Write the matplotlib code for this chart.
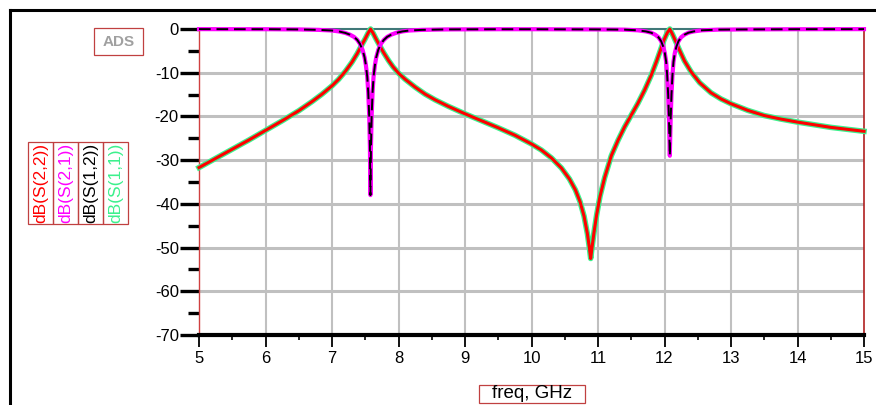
import matplotlib
matplotlib.use("Agg")
import matplotlib.pyplot as plt
from matplotlib.patches import Rectangle
from matplotlib.lines import Line2D
from matplotlib.ticker import MultipleLocator

plt.rcParams['font.family'] = ['Liberation Sans', 'DejaVu Sans']

# ---- data ----
# reflection (S11 / S22), dB
f_refl = [5.0, 5.25, 5.5, 5.75, 6.0, 6.25, 6.5, 6.7, 6.85, 7.0, 7.1, 7.2, 7.3, 7.38, 7.45,
          7.5, 7.54, 7.58, 7.62, 7.66, 7.71, 7.78, 7.85, 7.92, 8.0, 8.1, 8.25, 8.4, 8.55,
          8.75, 9.0, 9.25, 9.5, 9.75, 10.0, 10.15, 10.3, 10.45, 10.57, 10.66, 10.73, 10.79,
          10.84, 10.87, 10.89, 10.91, 10.94, 10.98, 11.03, 11.1, 11.2, 11.3, 11.4, 11.5,
          11.6, 11.7, 11.8, 11.88, 11.94, 11.99, 12.04, 12.08, 12.12, 12.17, 12.23, 12.3,
          12.4, 12.53, 12.7, 12.85, 13.0, 13.25, 13.5, 13.75, 14.0, 14.5, 15.0]
s22_db = [-31.7, -29.6, -27.5, -25.4, -23.2, -21.0, -18.7, -16.6, -14.9, -13.0, -11.5, -9.7,
          -7.6, -5.6, -3.6, -2.2, -1.0, 0.0, -1.0, -2.2, -3.6, -5.5, -7.2, -8.7, -10.1,
          -11.5, -13.3, -14.9, -16.2, -17.7, -19.4, -21.0, -22.6, -24.3, -26.3, -27.7, -29.5,
          -31.8, -34.3, -36.8, -39.5, -42.8, -46.8, -50.0, -52.5, -50.0, -46.5, -42.5, -38.3,
          -34.0, -29.0, -25.5, -22.4, -19.7, -17.0, -14.0, -10.6, -7.4, -4.8, -2.6, -0.9,
          0.0, -1.2, -2.9, -5.0, -7.3, -9.8, -12.3, -14.6, -16.0, -17.1, -18.6, -19.8, -20.6,
          -21.3, -22.5, -23.4]
s11_db = list(s22_db)

# transmission (S21 / S12), dB
f_trans = [5.0, 6.0, 6.5, 6.8, 7.0, 7.1, 7.2, 7.27, 7.33, 7.38, 7.42, 7.46, 7.49, 7.51,
           7.53, 7.545, 7.56, 7.57, 7.578, 7.586, 7.596, 7.61, 7.625, 7.645, 7.665, 7.695,
           7.735, 7.78, 7.83, 7.89, 7.96, 8.06, 8.16, 8.35, 8.7, 9.5, 10.0, 11.0, 11.4, 11.6,
           11.72, 11.8, 11.86, 11.91, 11.95, 11.98, 12.005, 12.025, 12.04, 12.055, 12.068,
           12.08, 12.092, 12.105, 12.12, 12.135, 12.155, 12.18, 12.21, 12.25, 12.3, 12.36,
           12.44, 12.56, 12.8, 13.2, 14.0, 15.0]
s21_db = [-0.03, -0.05, -0.1, -0.2, -0.35, -0.55, -0.9, -1.3, -1.8, -2.5, -3.4, -4.8, -6.5,
          -8.3, -10.9, -14.5, -20.0, -27.0, -38.0, -27.0, -20.0, -14.5, -10.9, -8.3, -6.5,
          -4.8, -3.4, -2.5, -1.8, -1.3, -0.9, -0.55, -0.35, -0.2, -0.1, -0.05, -0.05, -0.1,
          -0.15, -0.3, -0.55, -0.85, -1.3, -1.9, -2.8, -4.0, -5.5, -7.5, -10.5, -15.0, -21.0,
          -29.0, -21.0, -15.0, -10.5, -7.5, -5.5, -4.0, -2.8, -1.9, -1.3, -0.85, -0.55, -0.3,
          -0.15, -0.1, -0.05, -0.03]
s12_db = list(s21_db)

x_ticks = [5, 6, 7, 8, 9, 10, 11, 12, 13, 14, 15]
y_ticks = [-70, -60, -50, -40, -30, -20, -10, 0]
legend_labels = ['dB(S(2,2))', 'dB(S(2,1))', 'dB(S(1,2))', 'dB(S(1,1))']
legend_colors = ['#ff0000', '#ff00ff', '#000000', '#3cf08c']

W, H = 876, 405
fig = plt.figure(figsize=(W / 100, H / 100), dpi=100)

def fx(px):
    return px / W

def fy(py):
    return 1 - py / H

ax = fig.add_axes([fx(199), fy(335), fx(864) - fx(199), fy(29) - fy(335)])
ax.set_xlim(5, 15)
ax.set_ylim(-70, 0)

# grid
for xv in x_ticks[1:-1]:
    ax.axvline(xv, color='#c0c0c0', lw=1.5, zorder=0)
for yv in y_ticks[1:-1]:
    ax.axhline(yv, color='#c0c0c0', lw=2.2, zorder=0)

# curves
ax.plot(f_refl, s11_db, color='#3cf08c', lw=4.0, zorder=3, clip_on=False,
        solid_joinstyle='round')
ax.plot(f_refl, s22_db, color='#ff0000', lw=2.2, zorder=4, clip_on=False,
        solid_joinstyle='round')
ax.plot(f_trans, s21_db, color='#ff00ff', lw=3.0, zorder=5, clip_on=False)
ax.plot(f_trans, s12_db, color='#000000', lw=1.4, ls=(0, (6, 3)), zorder=6, clip_on=False)

# spines
ax.spines['left'].set_color('#d04040')
ax.spines['left'].set_linewidth(1.0)
ax.spines['right'].set_color('#b02020')
ax.spines['right'].set_linewidth(1.2)
ax.spines['top'].set_color('#407878')
ax.spines['top'].set_linewidth(1.5)
ax.spines['bottom'].set_color('#000000')
ax.spines['bottom'].set_linewidth(3.0)
ax.spines['bottom'].set_zorder(8)

# ticks
ax.set_xticks(x_ticks)
ax.set_yticks(y_ticks)
ax.set_xticklabels([str(v) for v in x_ticks])
ax.set_yticklabels([str(v) for v in y_ticks])
ax.xaxis.set_minor_locator(MultipleLocator(0.5))
ax.yaxis.set_minor_locator(MultipleLocator(5))
ax.tick_params(axis='y', which='major', direction='out', length=13.5, width=2.4,
               labelsize=12, pad=1, color='black')
ax.tick_params(axis='y', which='minor', direction='out', length=8, width=2.4, color='black')
ax.tick_params(axis='x', which='major', direction='out', length=8.5, width=1.3,
               labelsize=12, pad=3, color='black')
ax.tick_params(axis='x', which='minor', direction='out', length=3.5, width=1.2, color='black')

# outer frame (top and left)
fig.add_artist(Line2D([fx(10), 1.0], [fy(10), fy(10)], color='black', lw=2.2))
fig.add_artist(Line2D([fx(10), fx(10)], [fy(10), 0.0], color='black', lw=2.2))

# ADS box
fig.add_artist(Rectangle((fx(94), fy(55)), fx(143) - fx(94), fy(28) - fy(55),
                         fill=False, edgecolor='#c04040', lw=0.9))
fig.text(fx(118.5), fy(41.5), 'ADS', color='#a0a0a0', fontsize=11, fontweight='bold',
         ha='center', va='center')

# legend boxes with rotated labels
x0 = 28
bw = 25
for i, (lab, col) in enumerate(zip(legend_labels, legend_colors)):
    left = x0 + i * bw
    fig.add_artist(Rectangle((fx(left), fy(224)), fx(bw), fy(142) - fy(224),
                             fill=False, edgecolor='#c04040', lw=0.9))
    fig.text(fx(left + bw / 2 + 0.5), fy(223), lab, color=col, fontsize=12.5,
             rotation=90, ha='center', va='bottom')

# x axis label box
fig.add_artist(Rectangle((fx(479), fy(403)), fx(585) - fx(479), fy(385) - fy(403),
                         fill=False, edgecolor='#c04040', lw=0.9))
fig.text(fx(532), fy(394), 'freq, GHz', color='black', fontsize=13.5, ha='center',
         va='center')

fig.savefig('out.png', dpi=100)
